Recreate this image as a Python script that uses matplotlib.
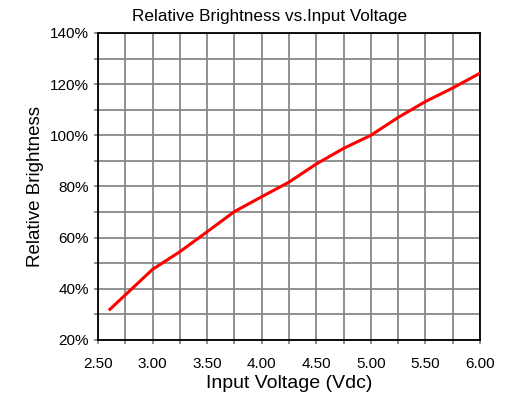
import matplotlib
matplotlib.use('Agg')
import matplotlib.pyplot as plt
from matplotlib.ticker import MultipleLocator, FuncFormatter

# curve
voltage = [2.61, 3.00, 3.25, 3.50, 3.75, 4.00, 4.25, 4.50, 4.75, 5.00, 5.25, 5.50, 5.75, 6.00]
brightness = [32.0, 47.6, 54.5, 62.3, 70.2, 76.0, 81.7, 88.8, 94.9, 100.0, 107.0, 113.2, 118.5, 124.3]

plt.rcParams['font.family'] = ['Liberation Sans', 'DejaVu Sans']

fig = plt.figure(figsize=(5.19, 3.99), dpi=100)
ax = fig.add_axes([0.1888, 0.1479, 0.7361, 0.7694])

ax.plot(voltage, brightness, color='#ff0000', linewidth=2.2, zorder=3)

ax.set_xlim(2.5, 6.0)
ax.set_ylim(20, 140)
ax.xaxis.set_major_locator(MultipleLocator(0.5))
ax.xaxis.set_minor_locator(MultipleLocator(0.25))
ax.yaxis.set_major_locator(MultipleLocator(20))
ax.yaxis.set_minor_locator(MultipleLocator(10))
ax.xaxis.set_major_formatter(FuncFormatter(lambda v, p: '%.2f' % v))
ax.yaxis.set_major_formatter(FuncFormatter(lambda v, p: '%d%%' % v))

ax.grid(which='both', color='#888888', linewidth=1.3, zorder=1)
ax.tick_params(which='both', direction='out', length=3, width=1.3, color='#888888', labelsize=11)
ax.tick_params(axis='x', which='major', pad=9)
for s in ax.spines.values():
    s.set_color('black')
    s.set_linewidth(1.3)

# title sits a little left of the plot centre in the original
fig.text(270 / 519, 1 - 17 / 399, 'Relative Brightness vs.Input Voltage',
         fontsize=12.3, ha='center', va='center')
ax.set_xlabel('Input Voltage (Vdc)', fontsize=14, labelpad=3)
ax.set_ylabel('Relative Brightness', fontsize=13.5, labelpad=4)

plt.savefig('out.png', dpi=100)
